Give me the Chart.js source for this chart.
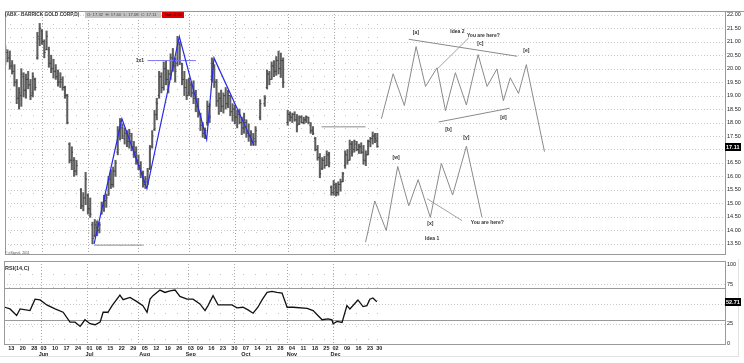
<!DOCTYPE html>
<html>
<head>
<meta charset="utf-8">
<script src="https://cdn.jsdelivr.net/npm/chart.js@4/dist/chart.umd.min.js"></script>
<style>
  html, body { margin: 0; padding: 0; background: #fff; }
  .wrap { position: relative; width: 744px; height: 363px; overflow: hidden; }
  #price-chart { position: absolute; left: 0; top: 0; }
  #rsi-chart { position: absolute; left: 0; top: 259px; }
</style>
</head>
<body>
<div class="wrap">
  <canvas id="price-chart" width="744" height="259"></canvas>
  <canvas id="rsi-chart" width="744" height="104"></canvas>
</div>
<script>
// trading day index, 0 = 13 May
const barDays = [
  -2, -1, 0, 1, 2, 3, 4, 5, 6, 7,
  8, 9, 10, 11, 12, 13, 14, 15, 16, 17,
  18, 19, 20, 21, 22, 23, 24, 25, 26, 27,
  28, 29, 31, 32, 33, 34, 35, 36, 37, 38,
  39, 40, 41, 42, 43, 44, 45, 46, 47, 48,
  49, 50, 51, 52, 53, 54, 55, 56, 57, 58,
  59, 60, 61, 62, 63, 64, 65, 66, 67, 68,
  69, 70, 71, 72, 73, 74, 75, 76, 77, 78,
  79, 80, 81, 82, 83, 84, 85, 86, 87, 88,
  89, 90, 91, 92, 93, 94, 95, 96, 97, 98,
  99, 100, 101, 102, 103, 104, 105, 106, 107, 109,
  111, 112, 113, 114, 115, 116, 117, 118, 119, 121,
  122, 123, 124, 125, 126, 127, 128, 129, 130, 131,
  132, 133, 134, 135, 136, 137, 138, 139, 140, 141,
  142, 143, 144, 145, 146, 147, 148, 149, 150, 151,
  152, 153, 154, 155, 156, 157, 158, 159, 160
];
const opens = [
  20.3, 20.6, 20.4, 20.1, 19.9, 19.5, 18.9, 19.0, 19.7, 19.2,
  19.6, 19.4, 19.1, 19.6, 20.4, 21.1, 21.4, 21.0, 20.7, 20.7,
  20.2, 20.0, 19.9, 19.7, 19.5, 19.5, 19.3, 19.0, 17.2, 16.6,
  16.6, 16.2, 15.5, 14.9, 15.2, 15.3, 14.8, 14.2, 13.8, 14.1,
  14.0, 14.6, 14.9, 15.1, 15.3, 15.9, 15.7, 16.2, 16.9, 17.7,
  17.8, 17.4, 17.6, 17.3, 17.5, 17.1, 16.9, 16.6, 16.4, 16.1,
  15.7, 15.8, 16.3, 17.1, 17.75, 18.3, 19.0, 19.7, 19.3, 20.0,
  19.6, 19.8, 20.4, 20.1, 20.2, 20.9, 20.2, 19.6, 19.3, 19.1,
  19.4, 19.1, 18.9, 18.6, 18.3, 17.9, 17.6, 18.0, 18.6, 19.6,
  20.1, 19.5, 18.8, 18.9, 18.6, 19.0, 18.7, 19.0, 18.4, 18.5,
  18.2, 18.3, 18.0, 17.8, 18.0, 17.6, 17.5, 17.3, 17.3, 18.2,
  18.7, 19.3, 19.8, 19.6, 20.1, 19.9, 20.3, 20.0, 20.3, 18.0,
  18.3, 18.2, 18.3, 18.1, 17.95, 18.2, 18.0, 18.1, 18.2, 17.9,
  17.7, 17.4, 17.0, 16.7, 16.3, 16.6, 16.4, 16.8, 15.6, 15.4,
  15.6, 15.4, 15.7, 15.8, 16.4, 16.8, 16.6, 17.2, 17.0, 17.2,
  17.0, 17.1, 16.9, 16.6, 16.8, 17.3, 17.4, 17.5, 17.32
];
const highs = [
  20.85, 20.7, 20.65, 20.3, 20.15, 19.6, 19.3, 20.0, 19.85, 19.8,
  19.9, 19.6, 19.85, 19.65, 21.35, 21.68, 21.45, 21.07, 21.4, 20.8,
  20.5, 20.35, 20.15, 19.95, 19.85, 19.7, 19.35, 19.05, 17.25, 17.1,
  16.7, 16.6, 15.55, 15.4, 16.15, 15.35, 15.2, 14.3, 14.4, 14.35,
  14.3, 15.05, 15.3, 15.35, 16.0, 16.25, 16.35, 16.6, 17.85, 18.15,
  17.95, 17.8, 17.7, 17.75, 17.6, 17.3, 17.1, 16.8, 16.55, 16.2,
  16.0, 16.3, 17.15, 17.7, 18.45, 18.9, 19.9, 19.85, 20.25, 20.3,
  19.95, 20.55, 20.75, 20.4, 21.2, 21.0, 20.2, 19.9, 19.6, 19.65,
  19.5, 19.55, 19.2, 18.9, 18.35, 18.0, 17.8, 18.8, 18.7, 20.4,
  20.15, 19.6, 19.1, 19.2, 19.1, 19.3, 19.2, 19.0, 18.7, 18.65,
  18.45, 18.5, 18.2, 18.35, 18.1, 17.95, 17.7, 17.6, 17.85, 18.85,
  19.0, 19.95, 19.9, 20.25, 20.3, 20.45, 20.65, 20.58, 20.4, 18.45,
  18.4, 18.35, 18.4, 18.3, 18.25, 18.25, 18.2, 18.25, 18.2, 18.0,
  17.85, 17.45, 17.15, 16.85, 16.7, 16.75, 16.95, 16.9, 15.65, 15.85,
  15.75, 15.8, 15.9, 16.15, 16.95, 17.0, 17.35, 17.3, 17.35, 17.3,
  17.2, 17.25, 17.15, 16.95, 17.35, 17.45, 17.65, 17.6, 17.6
];
const lows = [
  20.15, 20.25, 19.98, 19.8, 19.35, 18.7, 18.5, 18.6, 18.95, 18.9,
  19.25, 18.85, 18.95, 19.2, 20.35, 20.85, 20.9, 20.4, 20.7, 20.05,
  19.85, 19.65, 19.6, 19.35, 19.3, 19.2, 18.9, 17.95, 16.5, 16.25,
  16.0, 16.05, 14.8, 14.72, 14.95, 14.6, 14.48, 13.5, 13.75, 13.8,
  13.9, 14.6, 14.7, 14.85, 15.3, 15.55, 15.6, 16.0, 16.8, 17.35,
  17.4, 17.2, 17.1, 17.05, 16.95, 16.7, 16.45, 16.25, 15.95, 15.6,
  15.55, 15.7, 16.25, 17.05, 17.7, 18.1, 18.9, 19.1, 19.2, 19.4,
  19.1, 19.6, 19.9, 19.5, 20.1, 20.15, 19.4, 19.0, 18.85, 19.0,
  18.95, 18.7, 18.4, 18.2, 17.7, 17.45, 17.4, 17.9, 18.0, 19.5,
  19.3, 18.6, 18.3, 18.4, 18.35, 18.5, 18.55, 18.25, 18.05, 17.95,
  17.8, 17.95, 17.55, 17.6, 17.45, 17.3, 17.15, 17.15, 17.15, 18.1,
  18.6, 19.25, 19.4, 19.6, 19.7, 19.75, 19.8, 19.67, 19.3, 17.9,
  18.05, 18.0, 18.05, 17.65, 17.92, 17.98, 17.95, 18.0, 17.95, 17.6,
  17.55, 16.95, 16.6, 15.95, 16.25, 16.3, 16.4, 16.35, 15.3, 15.3,
  15.27, 15.3, 15.45, 15.8, 16.3, 16.45, 16.6, 16.75, 16.9, 16.95,
  16.85, 16.85, 16.45, 16.4, 16.8, 17.1, 17.2, 17.25, 17.08
];
const closes = [
  20.7, 20.4, 20.1, 19.9, 19.5, 18.9, 19.1, 19.8, 19.2, 19.6,
  19.4, 19.0, 19.7, 19.3, 21.2, 21.5, 21.0, 20.6, 21.2, 20.2,
  20.0, 19.9, 19.7, 19.5, 19.6, 19.3, 19.0, 18.0, 16.6, 16.9,
  16.2, 16.4, 14.9, 15.2, 15.9, 14.8, 14.6, 13.7, 14.2, 14.0,
  14.2, 14.9, 15.1, 15.2, 15.9, 15.7, 16.2, 16.5, 17.7, 17.9,
  17.5, 17.6, 17.3, 17.6, 17.1, 16.9, 16.6, 16.4, 16.1, 15.8,
  15.9, 16.2, 17.0, 17.5, 18.3, 18.7, 19.7, 19.3, 20.0, 19.6,
  19.8, 20.4, 20.1, 19.9, 21.0, 20.3, 19.6, 19.3, 19.0, 19.5,
  19.1, 18.9, 18.6, 18.4, 17.9, 17.6, 17.7, 18.6, 18.2, 20.2,
  19.5, 18.8, 18.9, 18.6, 19.0, 18.7, 19.0, 18.4, 18.5, 18.2,
  18.3, 18.0, 17.8, 18.1, 17.6, 17.5, 17.3, 17.4, 17.7, 18.7,
  18.9, 19.8, 19.6, 20.1, 19.9, 20.3, 20.0, 20.3, 19.5, 18.3,
  18.2, 18.3, 18.1, 17.9, 18.2, 18.0, 18.1, 18.2, 18.0, 17.7,
  17.6, 17.0, 16.7, 16.1, 16.6, 16.4, 16.8, 16.5, 15.4, 15.7,
  15.4, 15.7, 15.8, 16.1, 16.8, 16.6, 17.2, 16.9, 17.3, 17.0,
  17.1, 16.9, 16.6, 16.8, 17.3, 17.4, 17.5, 17.41, 17.11
];

const rsiDays = [
  -1.7, 0.5, 3.4, 4.9, 9.2, 11.4, 13.6, 16.5, 20.1, 23.6,
  26.6, 28.8, 31, 33.1, 35.3, 37.5, 39.7, 41, 43.1, 44.9,
  48.3, 49.7, 52.7, 55.7, 58.3, 60.1, 61.4, 62.7, 65.7, 67.9,
  70.1, 72.3, 74.4, 77.5, 80.1, 83.1, 85.3, 86.6, 88.8, 91,
  93.1, 97, 99.2, 101.8, 104, 106.2, 108.3, 110.1, 112.3, 114.4,
  116.6, 118.8, 121, 123.6, 129.7, 132.3, 134.4, 136.2, 138.8, 140.5,
  141, 142.7, 144.9, 147, 148.3, 151.8, 154, 155.7, 157, 158.3, 160
];
const rsiVals = [
  45.8, 43.7, 35.4, 43.7, 41.6, 56, 55, 48.7, 43.7, 39.5,
  27, 27, 21.6, 30, 25, 23.7, 27, 39.5, 39.5, 47.9,
  61.2, 55.4, 58.3, 52.9, 47.9, 39.5, 56, 60.4, 67.5, 64.5,
  66.6, 67.5, 59.5, 56, 56, 50, 41.6, 47.9, 60.4, 48.7,
  48.7, 48.7, 45, 45.8, 42.5, 38.3, 45.8, 55, 64.5, 65.8,
  64.5, 63.7, 45.8, 45.8, 44.5, 41.6, 35.4, 30, 31.2, 30,
  25, 27.9, 26.6, 47.9, 43.7, 55, 46.6, 47.9, 56, 57.5, 52.71
];

// drawn studies
const waveDays = [36.7, 48.8, 59.7, 73.8, 85.7, 88.9, 106.3];
const wavePrices = [13.5, 18.14, 15.55, 21.19, 17.37, 20.4, 17.16];
const idea2Days = [161.8, 166.9, 171.8, 176.9, 181.0, 186.0, 189.7, 194.0, 198.8,
  203.9, 207.8, 212.1, 214.9, 217.9, 221.5, 224.9, 232.8];
const idea2Prices = [18.14, 19.81, 18.63, 20.82, 19.34, 20.03, 18.44, 19.85, 18.65,
  20.52, 19.34, 19.99, 18.81, 19.66, 19.08, 20.15, 16.92];
const idea1Days = [154.9, 158.9, 163.9, 168.9, 173.7, 177.8, 183.1, 187.9, 192.8, 198.8, 205.6];
const idea1Prices = [13.56, 15.09, 13.99, 16.37, 14.91, 15.88, 14.48, 16.48, 15.31, 17.12, 14.48];

const noteTexts = ["1x1", "[a]", "Idea 2", "You are here?", "[c]", "[e]", "[b]", "[d]",
  "[w]", "[x]", "[y]", "Idea 1", "You are here?"];
const noteDays = [56.6, 176.8, 194.9, 206.2, 204.9, 224.9, 191.0, 214.9, 168.2, 183.1, 198.8, 183.9, 207.9];
const notePrices = [20.31, 21.32, 21.36, 21.22, 20.92, 20.68, 17.75, 18.17, 16.68, 14.23, 17.44, 13.68, 14.27];

const priceLevels = [13.5, 14, 14.5, 15, 15.5, 16, 16.5, 17, 17.5, 18, 18.5, 19, 19.5, 20, 20.5, 21, 21.5, 22];
const rsiLevels = [0, 25, 50, 75, 100];
const weekTicks = [0, 5, 10, 14, 19, 24, 29, 34, 38, 43, 48, 53, 58, 63, 68, 73, 78,
  82, 87, 92, 97, 102, 107, 112, 117, 122, 127, 132, 137, 141, 146, 151, 156, 160];
const weekLabels = ["13", "20", "28", "03", "10", "17", "24", "01", "08", "15", "22", "29", "05",
  "12", "19", "26", "03", "09", "16", "23", "30", "07", "14", "21", "28", "04", "11", "18", "25",
  "02", "09", "16", "23", "30"];
const monthTicks = [14, 34, 58, 78, 102, 122, 141];
const monthNames = ["Jun", "Jul", "Aug", "Sep", "Oct", "Nov", "Dec"];
const monthStarts = [14, 34, 56, 78, 98, 121, 141];

const FONT = "'Liberation Sans', Arial, sans-serif";
const X_MIN = -2.1;
const X_MAX = 311.4;

const pts = (xs, ys) => xs.map((x, k) => ({ x, y: ys[k] }));

function studyLine(data, color, width) {
  return {
    type: "line",
    data,
    borderColor: color,
    borderWidth: width,
    pointRadius: 0,
    fill: false,
    tension: 0,
  };
}

function fixYAxis(scale) {
  scale.width = 19;
  scale.paddingTop = 0;
  scale.paddingBottom = 0;
}

function fixXAxis(scale) {
  scale.height = 19;
  scale.paddingLeft = 0;
  scale.paddingRight = 0;
}

function hLine(ctx, area, y) {
  const py = Math.round(y) + 0.5;
  ctx.beginPath();
  ctx.moveTo(area.left, py);
  ctx.lineTo(area.right, py);
  ctx.stroke();
}

function vLine(ctx, area, x) {
  const px = Math.round(x) + 0.5;
  ctx.beginPath();
  ctx.moveTo(px, area.top);
  ctx.lineTo(px, area.bottom);
  ctx.stroke();
}

function drawTimeGrid(ctx, area, xScale) {
  ctx.save();
  ctx.lineWidth = 1;
  ctx.strokeStyle = "#c4c4c4";
  ctx.setLineDash([1, 12]);
  weekTicks.forEach((d) => vLine(ctx, area, xScale.getPixelForValue(d)));
  ctx.strokeStyle = "#a9a9a9";
  ctx.setLineDash([1, 2]);
  monthStarts.forEach((d) => vLine(ctx, area, xScale.getPixelForValue(d)));
  ctx.restore();
}

function drawFrame(ctx, area) {
  ctx.save();
  ctx.strokeStyle = "#999";
  ctx.lineWidth = 1;
  ctx.strokeRect(
    Math.round(area.left) + 0.5,
    Math.round(area.top) + 0.5,
    Math.round(area.right - area.left),
    Math.round(area.bottom - area.top)
  );
  ctx.restore();
}

function priceTag(ctx, x, y, text) {
  ctx.save();
  ctx.fillStyle = "#000";
  ctx.fillRect(x, Math.round(y) - 4, 16, 8);
  ctx.fillStyle = "#fff";
  ctx.font = `bold 5.5px ${FONT}`;
  ctx.textAlign = "left";
  ctx.textBaseline = "middle";
  ctx.fillText(text, x + 1, Math.round(y));
  ctx.restore();
}

const priceDecor = {
  id: "priceDecor",
  beforeDatasetsDraw(chart) {
    const { ctx, chartArea: area, scales } = chart;
    drawTimeGrid(ctx, area, scales.x);
    ctx.save();
    ctx.strokeStyle = "#cdcdcd";
    ctx.setLineDash([1, 2]);
    priceLevels.forEach((v) => hLine(ctx, area, scales.y.getPixelForValue(v)));
    ctx.restore();
  },
  afterDatasetsDraw(chart) {
    const { ctx, scales } = chart;
    ctx.save();
    ctx.font = `bold 5px ${FONT}`;
    ctx.fillStyle = "#333";
    ctx.textAlign = "center";
    ctx.textBaseline = "middle";
    noteTexts.forEach((t, k) => {
      ctx.fillText(t, scales.x.getPixelForValue(noteDays[k]), scales.y.getPixelForValue(notePrices[k]));
    });
    ctx.restore();
  },
  afterDraw(chart) {
    const { ctx, chartArea: area, scales } = chart;
    drawFrame(ctx, area);
    ctx.save();
    ctx.strokeStyle = "#999";
    ctx.beginPath();
    ctx.moveTo(area.right, 11.5);
    ctx.lineTo(744, 11.5);
    ctx.stroke();
    ctx.font = `bold 4.8px ${FONT}`;
    ctx.fillStyle = "#333";
    ctx.textBaseline = "middle";
    ctx.fillText("(ABX - BARRICK GOLD CORP,D)", 5, 15);
    ctx.fillStyle = "#c4c4c4";
    ctx.fillRect(85, 12, 76, 6);
    ctx.fillStyle = "#e00000";
    ctx.fillRect(162, 12, 22, 6);
    ctx.font = `4.2px ${FONT}`;
    ctx.fillStyle = "#444";
    ctx.fillText("O: 17.32  H: 17.60  L: 17.08  C: 17.11", 87, 15);
    ctx.fillStyle = "#300";
    ctx.fillText("Net -0.30", 165, 15);
    ctx.font = `3.5px ${FONT}`;
    ctx.fillStyle = "#555";
    ctx.fillText("\u00a9 eSignal, 2011", 5, 253);
    ctx.restore();
    const last = closes[closes.length - 1];
    priceTag(ctx, area.right, scales.y.getPixelForValue(last), last.toFixed(2));
  },
};

const rsiDecor = {
  id: "rsiDecor",
  beforeDatasetsDraw(chart) {
    const { ctx, chartArea: area, scales } = chart;
    drawTimeGrid(ctx, area, scales.x);
    ctx.save();
    ctx.strokeStyle = "#cdcdcd";
    ctx.setLineDash([1, 2]);
    [25, 50, 75].forEach((v) => hLine(ctx, area, scales.y.getPixelForValue(v)));
    ctx.setLineDash([]);
    ctx.strokeStyle = "#999";
    [30, 70].forEach((v) => hLine(ctx, area, scales.y.getPixelForValue(v)));
    ctx.restore();
  },
  afterDraw(chart) {
    const { ctx, chartArea: area, scales } = chart;
    drawFrame(ctx, area);
    ctx.save();
    ctx.font = `bold 5.5px ${FONT}`;
    ctx.fillStyle = "#333";
    ctx.textBaseline = "middle";
    ctx.fillText("RSI(14,C)", 5, 9);
    ctx.strokeStyle = "#e2e2e2";
    ctx.beginPath();
    ctx.moveTo(0, 97.5);
    ctx.lineTo(738, 97.5);
    ctx.moveTo(738.5, 0);
    ctx.lineTo(738.5, 98);
    ctx.stroke();
    ctx.restore();
    const last = rsiVals[rsiVals.length - 1];
    priceTag(ctx, area.right, scales.y.getPixelForValue(last), last.toFixed(2));
  },
};

new Chart(document.getElementById("price-chart"), {
  type: "bar",
  data: {
    datasets: [
      studyLine(pts(waveDays, wavePrices), "#2b2be6", 1.2),
      studyLine(pts([60, 81], [20.3, 20.3]), "#7878f0", 1),
      studyLine(pts([36.6, 57.9], [13.45, 13.45]), "#8c8c8c", 1),
      studyLine(pts([135.7, 154.9], [17.84, 17.84]), "#8c8c8c", 1),
      studyLine(pts(idea2Days, idea2Prices), "#8a8a8a", 1),
      studyLine(pts([173.7, 220.9], [21.09, 20.46]), "#8a8a8a", 1),
      studyLine(pts([186.7, 217.6], [18.02, 18.53]), "#8a8a8a", 1),
      studyLine(pts([199.8, 186.0], [21.14, 19.98]), "#8a8a8a", 0.8),
      studyLine(pts(idea1Days, idea1Prices), "#8a8a8a", 1),
      studyLine(pts([181.7, 196.9], [15.17, 14.36]), "#8a8a8a", 0.8),
      {
        type: "line",
        data: pts(barDays, opens),
        showLine: false,
        pointStyle: "dash",
        pointRotation: 180,
        pointRadius: 1.3,
        pointBorderWidth: 1,
        pointBorderColor: "#444",
      },
      {
        type: "line",
        data: pts(barDays, closes),
        showLine: false,
        pointStyle: "dash",
        pointRotation: 0,
        pointRadius: 1.3,
        pointBorderWidth: 1,
        pointBorderColor: "#444",
      },
      {
        type: "bar",
        data: barDays.map((d, k) => ({ x: d, y: [lows[k], highs[k]] })),
        backgroundColor: "#5e5e5e",
        borderWidth: 0,
        barThickness: 1.4,
        grouped: false,
      },
    ],
  },
  options: {
    responsive: false,
    animation: false,
    events: [],
    layout: { padding: { left: 4, top: 11, right: 0, bottom: 2 } },
    plugins: { legend: { display: false }, tooltip: { enabled: false } },
    scales: {
      x: { type: "linear", display: false, min: X_MIN, max: X_MAX, offset: false },
      y: {
        position: "right",
        min: 13.12,
        max: 22.14,
        grid: { display: false, drawTicks: false },
        border: { display: false },
        afterBuildTicks: (scale) => {
          scale.ticks = priceLevels.map((v) => ({ value: v }));
        },
        afterFit: fixYAxis,
        ticks: {
          padding: 2,
          color: "#222",
          font: { family: FONT, size: 5.5 },
          callback: (v) => v.toFixed(2),
        },
      },
    },
  },
  plugins: [priceDecor],
});

new Chart(document.getElementById("rsi-chart"), {
  type: "line",
  data: {
    datasets: [
      {
        data: pts(rsiDays, rsiVals),
        borderColor: "#111",
        borderWidth: 1.3,
        pointRadius: 0,
        fill: false,
        tension: 0,
      },
    ],
  },
  options: {
    responsive: false,
    animation: false,
    events: [],
    layout: { padding: { left: 4, top: 2, right: 0, bottom: 0 } },
    plugins: { legend: { display: false }, tooltip: { enabled: false } },
    scales: {
      x: {
        type: "linear",
        min: X_MIN,
        max: X_MAX,
        grid: { display: false, drawTicks: false },
        border: { display: false },
        afterBuildTicks: (scale) => {
          scale.ticks = weekTicks.map((v) => ({ value: v }));
        },
        afterFit: fixXAxis,
        ticks: {
          autoSkip: false,
          maxRotation: 0,
          minRotation: 0,
          padding: 1,
          labelOffset: 2.5,
          color: "#222",
          font: { family: FONT, size: 5.5, weight: "bold", lineHeight: 1.1 },
          callback: (v, i) => {
            const m = monthTicks.indexOf(weekTicks[i]);
            return [weekLabels[i], m >= 0 ? monthNames[m] : ""];
          },
        },
      },
      y: {
        position: "right",
        min: -0.6,
        max: 104.2,
        grid: { display: false, drawTicks: false },
        border: { display: false },
        afterBuildTicks: (scale) => {
          scale.ticks = rsiLevels.map((v) => ({ value: v }));
        },
        afterFit: fixYAxis,
        ticks: {
          padding: 2,
          color: "#222",
          font: { family: FONT, size: 5.5 },
        },
      },
    },
  },
  plugins: [rsiDecor],
});
</script>
</body>
</html>
